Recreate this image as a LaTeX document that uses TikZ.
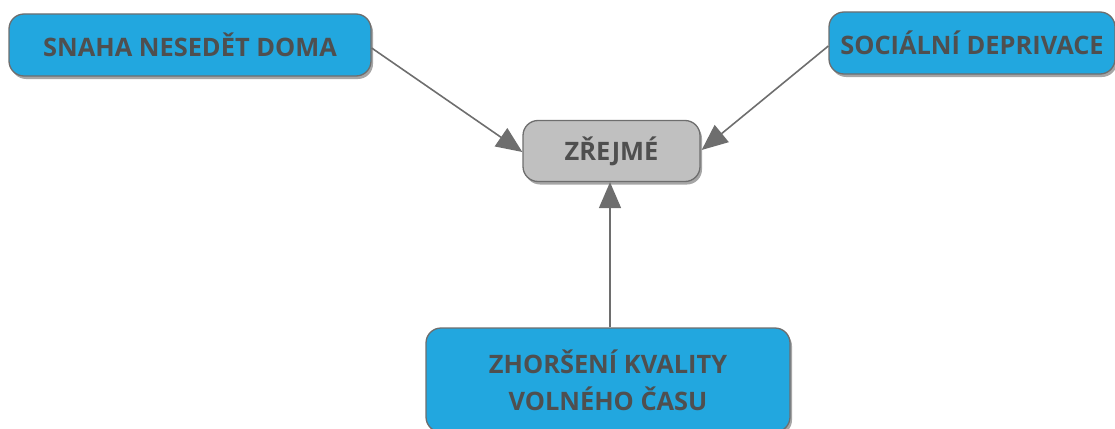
\documentclass[tikz,border=0pt]{standalone}
\usepackage{fontspec}
\setmainfont{Open Sans}
\usetikzlibrary{shadows,arrows.meta}
\definecolor{boxblue}{HTML}{22A7DF}
\definecolor{boxgray}{HTML}{C0C0C0}
\definecolor{edgegray}{HTML}{6E6E6E}
\definecolor{txtgray}{HTML}{4F4F4F}
\tikzset{
  conbox/.style={draw=edgegray, line width=1.3pt, rounded corners=15pt, fill=boxblue,
    font=\bfseries\fontsize{25.4}{37}\selectfont, text=txtgray, align=center, inner sep=0pt,
    drop shadow={shadow xshift=2pt, shadow yshift=-3pt, opacity=0.35, fill=black}},
  midbox/.style={conbox, fill=boxgray},
  link/.style={draw=edgegray, line width=1.6pt, -{Triangle[length=26pt,width=22pt]}}
}
\begin{document}
\begin{tikzpicture}[x=1pt,y=-1pt]
\useasboundingbox (0,0) rectangle (1115,428);
\clip (0,0) rectangle (1115,428);
\node[conbox, minimum width=362pt, minimum height=62pt] (a) at (190,45) {SNAHA NESEDĚT DOMA};
\node[conbox, minimum width=286pt, minimum height=62pt] (b) at (972,43) {SOCIÁLNÍ DEPRIVACE};
\node[midbox, minimum width=177pt, minimum height=61pt] (c) at (611.5,151) {ZŘEJMÉ};
\node[conbox, minimum width=364pt, minimum height=104pt] (d) at (608,380) {ZHORŠENÍ KVALITY\\VOLNÉHO ČASU};
\draw[link] (a.east) ++(0,3) -- ([yshift=-1pt]c.west);
\draw[link] (b.west) ++(0,3) -- ([xshift=1pt,yshift=1pt]c.east);
\draw[link] (d.north -| 610,0) -- (c.south -| 610,0);
\end{tikzpicture}
\end{document}
